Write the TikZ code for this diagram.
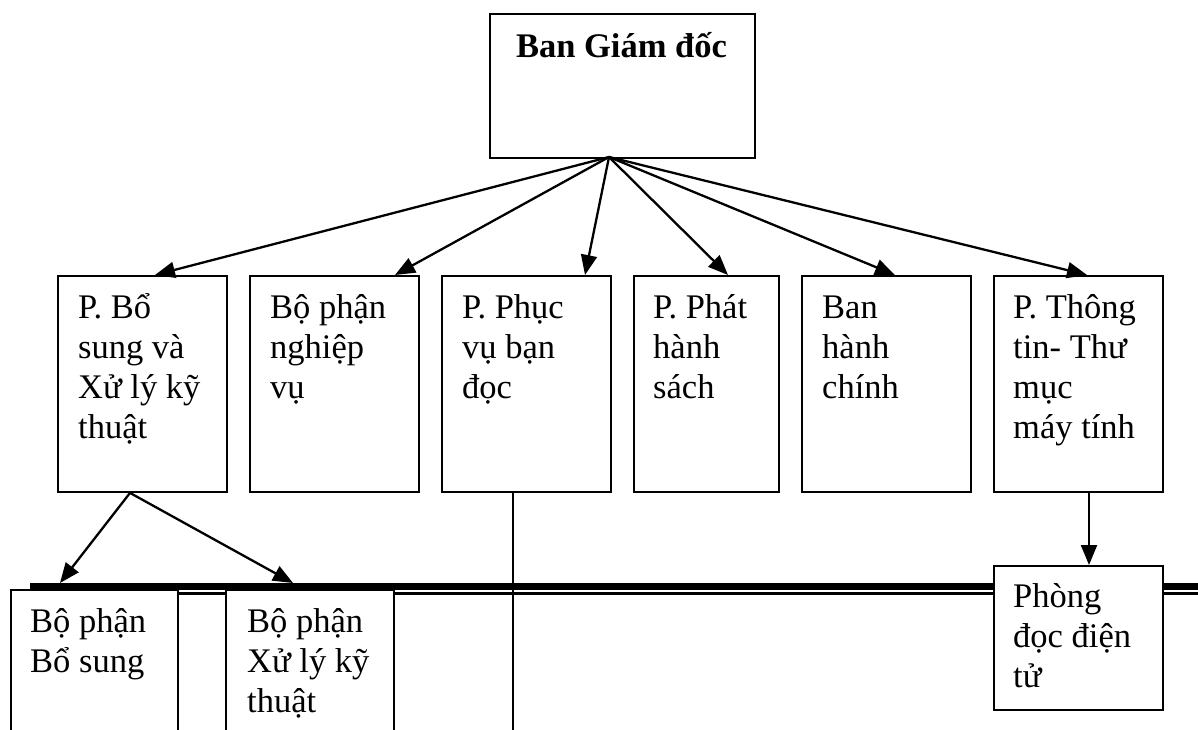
\documentclass[tikz,border=0pt]{standalone}
\usepackage{fontspec}
\setmainfont{Liberation Serif}
\usetikzlibrary{arrows.meta,calc}
\begin{document}
\begin{tikzpicture}[x=1pt,y=-1pt,
  frame/.style={draw,line width=1.9pt,fill=white,anchor=north west,inner sep=0pt},
  lbl/.style={anchor=base west,inner sep=0pt,font=\fontsize{34.5}{40}\selectfont},
  arr/.style={line width=2.3pt,-{Triangle[length=20pt,width=16pt]}},
  ln/.style={line width=1.9pt}]
\path[use as bounding box, clip] (0,0) rectangle (1198,730);

% top box
\node[frame,minimum width=265pt,minimum height=144pt] (gd) at (489,13) {};
\node[anchor=base,inner sep=0pt,font=\fontsize{34.5}{40}\selectfont\bfseries] (gdt) at (621.5,58) {Ban Giám đốc};
\coordinate (o) at (609,157);

% second row
\node[frame,minimum width=169pt,minimum height=216pt] (b1) at (57,275) {};
\node[frame,minimum width=169pt,minimum height=216pt] (b2) at (249,275) {};
\node[frame,minimum width=169pt,minimum height=216pt] (b3) at (441,275) {};
\node[frame,minimum width=145pt,minimum height=216pt] (b4) at (633,275) {};
\node[frame,minimum width=169pt,minimum height=216pt] (b5) at (801,275) {};
\node[frame,minimum width=169pt,minimum height=216pt] (b6) at (993,275) {};

\node[lbl] (t1) at ($(b1.north west)+(21,43)$) {\parbox[t]{160pt}{P. Bổ\\sung và\\Xử lý kỹ\\thuật}};
\node[lbl] (t2) at ($(b2.north west)+(21,43)$) {\parbox[t]{160pt}{Bộ phận\\nghiệp\\vụ}};
\node[lbl] (t3) at ($(b3.north west)+(21,43)$) {\parbox[t]{160pt}{P. Phục\\vụ bạn\\đọc}};
\node[lbl] (t4) at ($(b4.north west)+(20,43)$) {\parbox[t]{130pt}{P. Phát\\hành\\sách}};
\node[lbl] (t5) at ($(b5.north west)+(21,43)$) {\parbox[t]{160pt}{Ban\\hành\\chính}};
\node[lbl] (t6) at ($(b6.north west)+(20,43)$) {\parbox[t]{160pt}{P. Thông\\tin- Thư\\mục\\máy tính}};

% arrows from director
\draw[arr] (o) -- ($(b1.north west)+(98,0)$);
\draw[arr] (o) -- ($(b2.north west)+(146,0)$);
\draw[arr] (o) -- ($(b3.north west)+(144,0)$);
\draw[arr] (o) -- ($(b4.north west)+(95,0)$);
\draw[arr] (o) -- ($(b5.north west)+(94,0)$);
\draw[arr] (o) -- ($(b6.north west)+(94,0)$);

% double line
\coordinate (tl) at (30,593.8);
\coordinate (tr) at (1198,593.8);
\coordinate (kl) at (30,586.5);
\coordinate (kr) at (1198,586.5);
\draw[line width=2.8pt] (tl) -- (tr);
\draw[line width=7.5pt] (kl) -- (kr);

% bottom boxes
\node[frame,minimum width=167pt,minimum height=200pt] (c1) at (10,589) {};
\node[frame,minimum width=168pt,minimum height=200pt] (c2) at (225,589) {};
\node[frame,minimum width=169pt,minimum height=144pt] (c3) at (993,565) {};
\node[lbl] (u1) at ($(c1.north west)+(20,43)$) {\parbox[t]{150pt}{Bộ phận\\Bổ sung}};
\node[lbl] (u2) at ($(c2.north west)+(22,43)$) {\parbox[t]{150pt}{Bộ phận\\Xử lý kỹ\\thuật}};
\node[lbl] (u3) at ($(c3.north west)+(20,42)$) {\parbox[t]{150pt}{Phòng\\đọc điện\\tử}};

% sub arrows
\coordinate (s1) at (60,583);
\coordinate (s2) at (293,583);
\draw[arr] ($(b1.south west)+(73,0)$) -- (s1);
\draw[arr] ($(b1.south west)+(73,0)$) -- (s2);
\draw[arr] ($(b6.south west)+(96,0)$) -- (c3.north -| {$(b6.south west)+(96,0)$});

% vertical line from b3
\coordinate (vb) at (513,730);
\draw[ln] ($(b3.south west)+(72,0)$) -- (vb);
\end{tikzpicture}
\end{document}
